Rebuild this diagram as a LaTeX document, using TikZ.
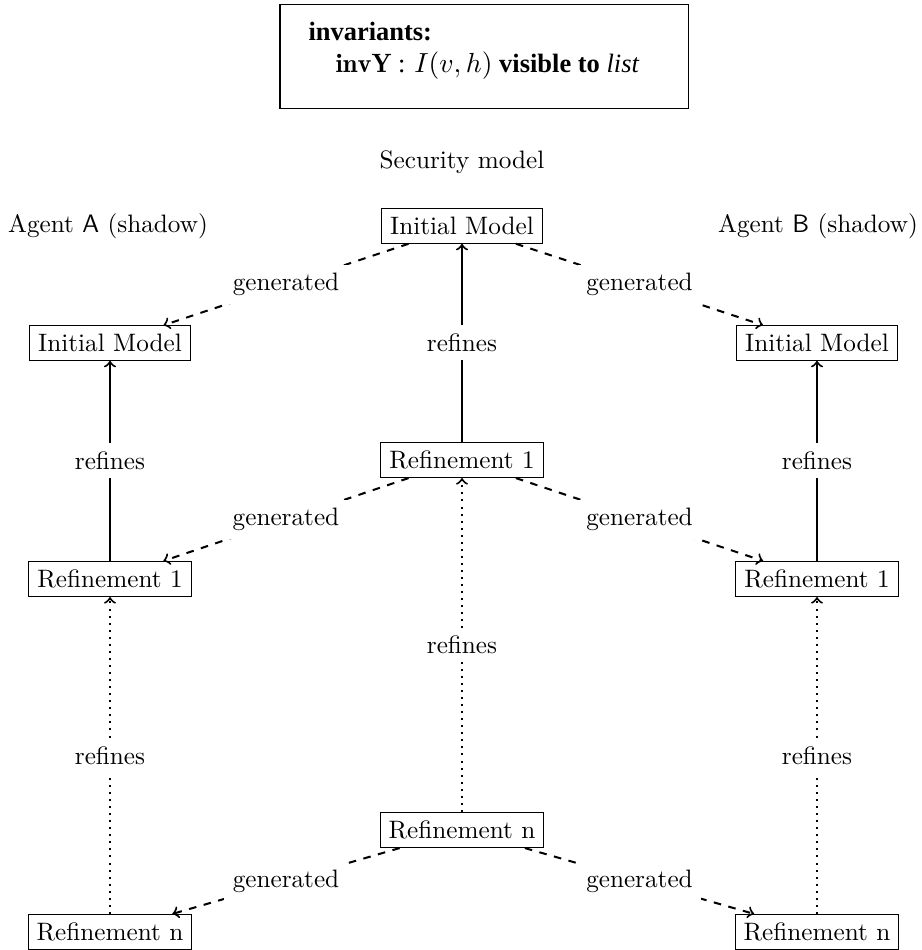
\documentclass[tikz,border=0pt]{standalone}
\usepackage{fontspec}
\newfontfamily\tnr{Liberation Serif}
\begin{document}
\begin{tikzpicture}[x=0.3968pt,y=-0.3968pt,
  box/.style={draw,line width=0.4pt,inner sep=3.333pt},
  lbl/.style={fill=white},
  gen/.style={->,thick,dashed},
  ref/.style={->,thick},
  refd/.style={->,thick,dotted}]
\useasboundingbox (0,0) rectangle (922,950);
% invariants box
\node[draw,line width=0.5pt,minimum width=162pt,minimum height=41pt,inner sep=0pt] (inv) at (484,56.5) {};
\node[anchor=base west,inner sep=0pt,font=\tnr\fontsize{10.5}{12}\selectfont] (invt) at (308,40) {\bfseries invariants:};
\node[anchor=base west,inner sep=0pt,font=\tnr\fontsize{10.5}{12}\selectfont] (invl) at (335,72) {$\mathbf{invY}$ : $I(v,h)$ {\tnr\bfseries visible to} {\tnr\itshape list}};
% headings
\node (sec) at (462,162) {Security model};
\node (agA) at (108,226) {Agent \textsf{A} (shadow)};
\node (agB) at (818,226) {Agent \textsf{B} (shadow)};
% models
\node[box] (c0) at (462,226) {Initial Model};
\node[box] (c1) at (462,460) {Refinement 1};
\node[box] (cn) at (462,830) {Refinement n};
\node[box] (l0) at (110,343) {Initial Model};
\node[box] (l1) at (110,579) {Refinement 1};
\node[box] (ln) at (110,932) {Refinement n};
\node[box] (r0) at (817,343) {Initial Model};
\node[box] (r1) at (817,579) {Refinement 1};
\node[box] (rn) at (817,932) {Refinement n};
% generated edges
\draw[gen] (c0) -- node[lbl] {generated} (l0);
\draw[gen] (c0) -- node[lbl] {generated} (r0);
\draw[gen] (c1) -- node[lbl] {generated} (l1);
\draw[gen] (c1) -- node[lbl] {generated} (r1);
\draw[gen] (cn) -- node[lbl] {generated} (ln);
\draw[gen] (cn) -- node[lbl] {generated} (rn);
% refines edges
\draw[ref] (c1) -- node[lbl] {refines} (c0);
\draw[ref] (l1) -- node[lbl] {refines} (l0);
\draw[ref] (r1) -- node[lbl] {refines} (r0);
\draw[refd] (cn) -- node[lbl] {refines} (c1);
\draw[refd] (ln) -- node[lbl] {refines} (l1);
\draw[refd] (rn) -- node[lbl] {refines} (r1);
\end{tikzpicture}
\end{document}
